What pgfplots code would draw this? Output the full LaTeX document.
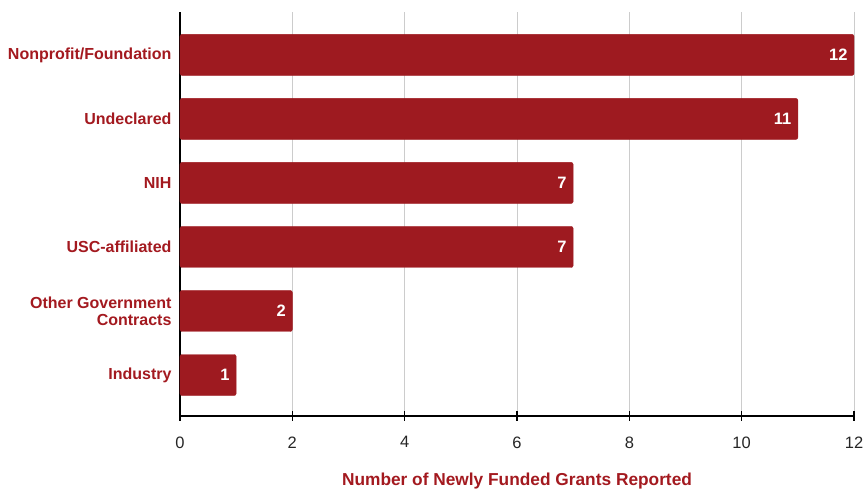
\documentclass[border=0pt]{standalone}
\usepackage{pgfplots}
\pgfplotsset{compat=1.18}
\usepackage{fontspec}
\setmainfont{Liberation Sans}
\definecolor{barred}{HTML}{9E1A20}
\definecolor{labred}{HTML}{A3191F}
\definecolor{gridgray}{HTML}{CCCCCC}
\begin{document}
\begin{tikzpicture}[x=1pt,y=1pt]
\path[use as bounding box] (0,0) rectangle (864,492);
\begin{axis}[
  at={(180pt,76pt)}, anchor=south west,
  scale only axis,
  width=674pt, height=404pt,
  xbar, bar width=41pt,
  xmin=0, xmax=12,
  ymin=-0.64, ymax=5.67,
  xtick={0,2,4,6,8,10,12},
  ytick={0,1,2,3,4,5},
  yticklabels={Industry,{Other Government\\Contracts},USC-affiliated,NIH,Undeclared,Nonprofit/Foundation},
  axis x line=bottom, axis y line=left,
  axis line style={-, black, line width=1.2pt},
  xmajorgrids, major grid style={gridgray, line width=0.8pt},
  x tick style={black, line width=1.2pt}, tick align=center, major tick length=10pt,
  y tick style={draw=none},
  /pgf/number format/assume math mode=true,
  xticklabel style={font=\fontsize{16.5}{18}\selectfont, text=black!85, yshift=-12pt},
  yticklabel style={font=\bfseries\fontsize{16}{17}\selectfont, text=labred, align=right, xshift=0pt},
  xlabel={Number of Newly Funded Grants Reported},
  xlabel style={at={(axis description cs:0.5,0)}, anchor=center, yshift=-65pt, font=\bfseries\fontsize{17.3}{19}\selectfont, text=labred},
  nodes near coords,
  nodes near coords style={anchor=east, xshift=-3pt, text=white, font=\bfseries\fontsize{16.5}{18}\selectfont},
  clip=false,
]
\addplot[fill=barred, draw=barred, rounded corners=2pt] coordinates {
  (1,0) (2,1) (7,2) (7,3) (11,4) (12,5)
};
\end{axis}
\end{tikzpicture}
\end{document}
